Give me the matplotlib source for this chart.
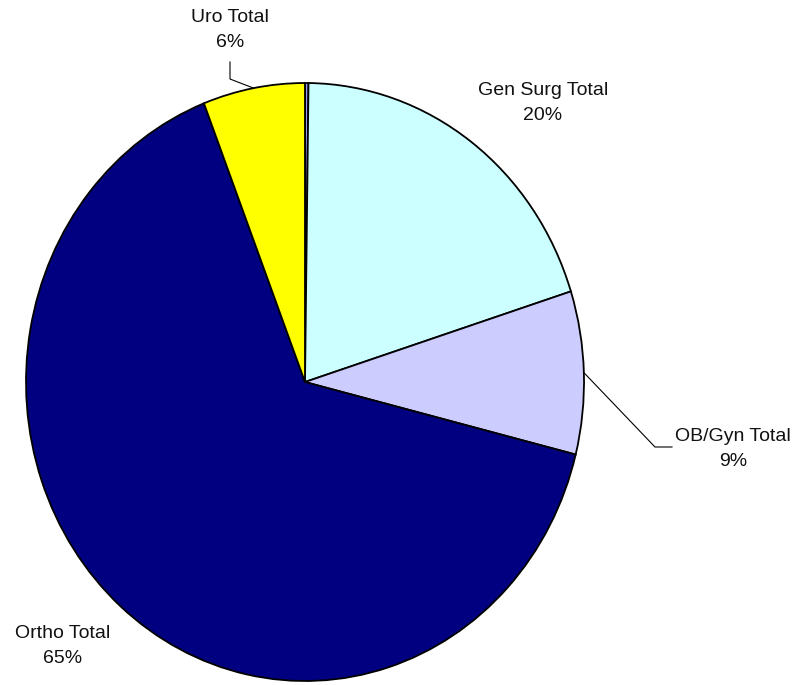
import matplotlib
matplotlib.use("Agg")
import matplotlib.pyplot as plt
import numpy as np

# Surgical case mix by service (percent of total)
services = ["Misc Total", "Gen Surg Total", "OB/Gyn Total", "Ortho Total", "Uro Total"]
shares = [0.2, 19.9, 8.8, 65.2, 5.9]
colors = ["#9999FF", "#CCFFFF", "#CCCCFF", "#000080", "#FFFF00"]
show_label = [False, True, True, True, True]

plt.rcParams["font.family"] = ["Liberation Sans", "DejaVu Sans"]

W, H = 798, 685
fig = plt.figure(figsize=(W / 100, H / 100), dpi=100)
ax = fig.add_axes([0, 0, 1, 1])

# pie centre and radii in pixels (slightly taller than wide)
cx, cy, rx, ry = 305, 382, 279, 299

def px(x, y):
    return (x - cx) / rx, (cy - y) / ry

wedges, _ = ax.pie(shares, colors=colors, startangle=90, counterclock=False,
                   radius=1.0, wedgeprops=dict(edgecolor="black", linewidth=1.3))
ax.set_aspect("auto")
x0, y1 = px(0, 0)
x1, y0 = px(W, H)
ax.set_xlim(x0, x1)
ax.set_ylim(y0, y1)
ax.axis("off")

def pct(v):
    return f"{round(v / sum(shares) * 100):.0f}%"

# label placement (text centre, optional leader elbow/end points) in pixels
layout = {
    "Gen Surg Total": dict(text=(543, 103), leader=None),
    "OB/Gyn Total": dict(text=(733, 449), leader=[(655, 447), (672, 447)]),
    "Ortho Total": dict(text=(63, 646), leader=None),
    "Uro Total": dict(text=(230, 30), leader=[(230, 79), (230, 62)]),
}

for w, name, v, show in zip(wedges, services, shares, show_label):
    if not show:
        continue
    spec = layout[name]
    tx, ty = px(*spec["text"])
    ax.text(tx, ty, f"{name}\n{pct(v)}", ha="center", va="center",
            fontsize=14, color="#111111", linespacing=1.65)
    if spec["leader"]:
        mid = np.deg2rad((w.theta1 + w.theta2) / 2)
        pts = [(np.cos(mid), np.sin(mid))] + [px(*p) for p in spec["leader"]]
        xs, ys = zip(*pts)
        ax.plot(xs, ys, color="black", linewidth=0.8)

fig.savefig("out.png", dpi=100, facecolor="white")
